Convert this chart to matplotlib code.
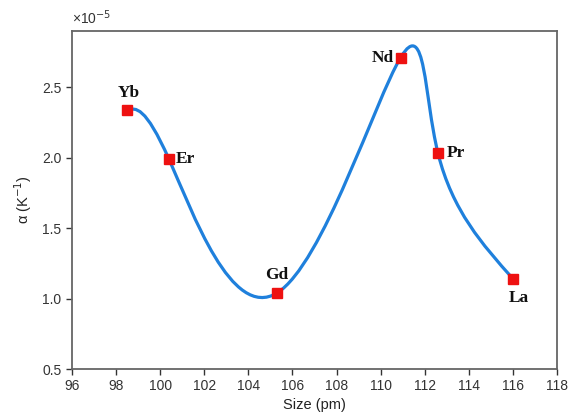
import numpy as np
import matplotlib.pyplot as plt
from matplotlib.path import Path
from matplotlib.patches import PathPatch

# ion sizes (pm) and thermal expansion coefficient (x1e-5 K^-1)
ions = ['Yb', 'Er', 'Gd', 'Nd', 'Pr', 'La']
size = [98.5, 100.4, 105.3, 110.9, 112.6, 116.0]
alpha = [2.34, 1.99, 1.04, 2.71, 2.03, 1.14]

plt.rcParams['font.family'] = ['Liberation Sans', 'DejaVu Sans']

fig = plt.figure(figsize=(5.75, 4.17), dpi=100)
ax = fig.add_axes([0.125, 0.115, 0.844, 0.811])
ax.set_xlim(96, 118)
ax.set_ylim(0.5, 2.9)


def smooth_path(ax, x, y):
    # parametric natural spline (uniform knots) in screen space, as beziers
    P = ax.transData.transform(np.column_stack([x, y]))
    n = len(P)
    A = np.zeros((n, n))
    B = np.zeros((n, 2))
    A[0, :2] = [2, 1]
    B[0] = 3 * (P[1] - P[0])
    A[-1, -2:] = [1, 2]
    B[-1] = 3 * (P[-1] - P[-2])
    for i in range(1, n - 1):
        A[i, i - 1:i + 2] = [1, 4, 1]
        B[i] = 3 * (P[i + 1] - P[i - 1])
    D = np.linalg.solve(A, B)
    verts = [P[0]]
    codes = [Path.MOVETO]
    for i in range(n - 1):
        verts += [P[i] + D[i] / 3, P[i + 1] - D[i + 1] / 3, P[i + 1]]
        codes += [Path.CURVE4] * 3
    verts = ax.transData.inverted().transform(np.array(verts))
    return Path(verts, codes)


ax.add_patch(PathPatch(smooth_path(ax, size, alpha), fill=False,
                       edgecolor='#1f80dc', lw=2.3, zorder=2))
ax.plot(size, alpha, 's', color='#ee1111', ms=6.5, zorder=3)

# label placement (dx, dy in points, alignment)
offsets = {
    'Yb': (1, 6, 'center', 'bottom'),
    'Er': (5, 0, 'left', 'center'),
    'Gd': (0, 7, 'center', 'bottom'),
    'Nd': (-5, 0, 'right', 'center'),
    'Pr': (6, 0, 'left', 'center'),
    'La': (4, -8, 'center', 'top'),
}
for name, x, y in zip(ions, size, alpha):
    dx, dy, ha, va = offsets[name]
    ax.annotate(name, (x, y), xytext=(dx, dy), textcoords='offset points',
                ha=ha, va=va, fontsize=12.5, fontweight='bold',
                family='Liberation Serif', color='#111111')

ax.set_xticks(np.arange(96, 119, 2))
ax.set_yticks([0.5, 1.0, 1.5, 2.0, 2.5])
ax.set_yticklabels(['0.5', '1.0', '1.5', '2.0', '2.5'])
ax.tick_params(direction='out', length=4, width=1, labelsize=10, colors='#333333')

for s in ax.spines.values():
    s.set_color('#666666')
    s.set_linewidth(1.3)

ax.set_xlabel('Size (pm)', fontsize=10.5, labelpad=3, color='#222222')
ax.set_ylabel('α (K$^{-1}$)', fontsize=10.5, labelpad=6, color='#222222')
ax.text(0.0, 1.012, '×10$^{-5}$', transform=ax.transAxes, fontsize=10,
        ha='left', va='bottom', color='#333333')

fig.savefig('out.png', dpi=100)
